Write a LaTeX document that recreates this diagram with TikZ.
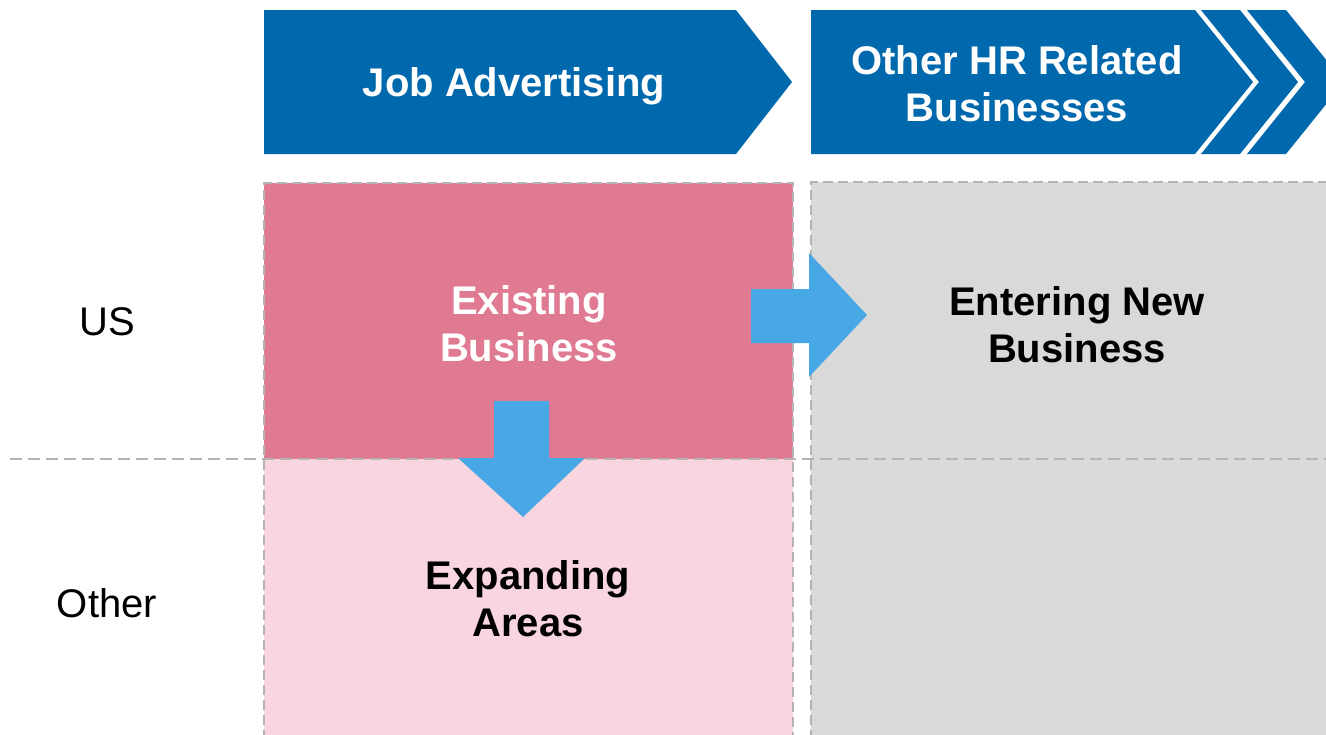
\documentclass[tikz,border=0pt]{standalone}
\usepackage{fontspec}
\setmainfont{Liberation Sans}
\definecolor{chevblue}{HTML}{0068AC}
\definecolor{darkpink}{HTML}{E07A93}
\definecolor{lightpink}{HTML}{F9D5DF}
\definecolor{cellgray}{HTML}{D9D9D9}
\definecolor{arrowblue}{HTML}{47A8E5}
\definecolor{dashgray}{HTML}{B4B4B4}
\tikzset{
  chev/.style={fill=chevblue, draw=none},
  cell/.style={draw=dashgray, line width=1pt, dash pattern=on 5pt off 2.5pt},
  divider/.style={draw=dashgray, line width=1.2pt, dash pattern=on 6pt off 3pt},
  bigarrow/.style={fill=arrowblue, draw=none},
  headtxt/.style={text=white, font=\fontsize{20}{23.5}\selectfont\bfseries, align=center},
  celltxt/.style={font=\fontsize{20}{23.5}\selectfont\bfseries, align=center},
  rowtxt/.style={font=\fontsize{20}{23.5}\selectfont, align=center}
}
\begin{document}
\begin{tikzpicture}[x=0.5pt,y=-0.5pt]
\useasboundingbox (0,0) rectangle (1326,734);
\begin{scope}
\clip (0,0) rectangle (1326,734);
% chevrons
\fill[chev] (264,10) -- (736,10) -- (792,82) -- (736,154) -- (264,154) -- cycle;
\fill[chev] (811,10) -- (1195,10) -- (1253,82) -- (1195,154) -- (811,154) -- cycle;
\fill[chev] (1201,10) -- (1240,10) -- (1298,82) -- (1240,154) -- (1201,154) -- (1259,82) -- cycle;
\fill[chev] (1247,10) -- (1286,10) -- (1344,82) -- (1286,154) -- (1247,154) -- (1305,82) -- cycle;
% cells
\fill[darkpink] (264,183) rectangle (793,459);
\fill[lightpink] (264,459) rectangle (793,740);
\fill[cellgray] (811,182) rectangle (1330,740);
\draw[cell] (264,740) -- (264,183) -- (793,183) -- (793,740);
\draw[cell] (811,740) -- (811,182) -- (1330,182);
\draw[divider] (10,459) -- (1330,459);
% arrows
\fill[bigarrow] (751,289) -- (809,289) -- (809,253) -- (867,315) -- (809,377) -- (809,343) -- (751,343) -- cycle;
\fill[bigarrow] (494,401) -- (549,401) -- (549,458) -- (585,458) -- (523,517) -- (458,458) -- (494,458) -- cycle;
\end{scope}
% texts
\node[headtxt] (jobadv) at (514,86) {Job Advertising};
\node[headtxt] (otherhr) at (1017,84) {Other HR Related\\Businesses};
\node[rowtxt] (us) at (107,322) {US};
\node[rowtxt] (other) at (107,603) {Other};
\node[celltxt, text=white] (existing) at (529,324) {Existing\\Business};
\node[celltxt] (entering) at (1077,325) {Entering New\\Business};
\node[celltxt] (expanding) at (528,599) {Expanding\\Areas};
\end{tikzpicture}
\end{document}
